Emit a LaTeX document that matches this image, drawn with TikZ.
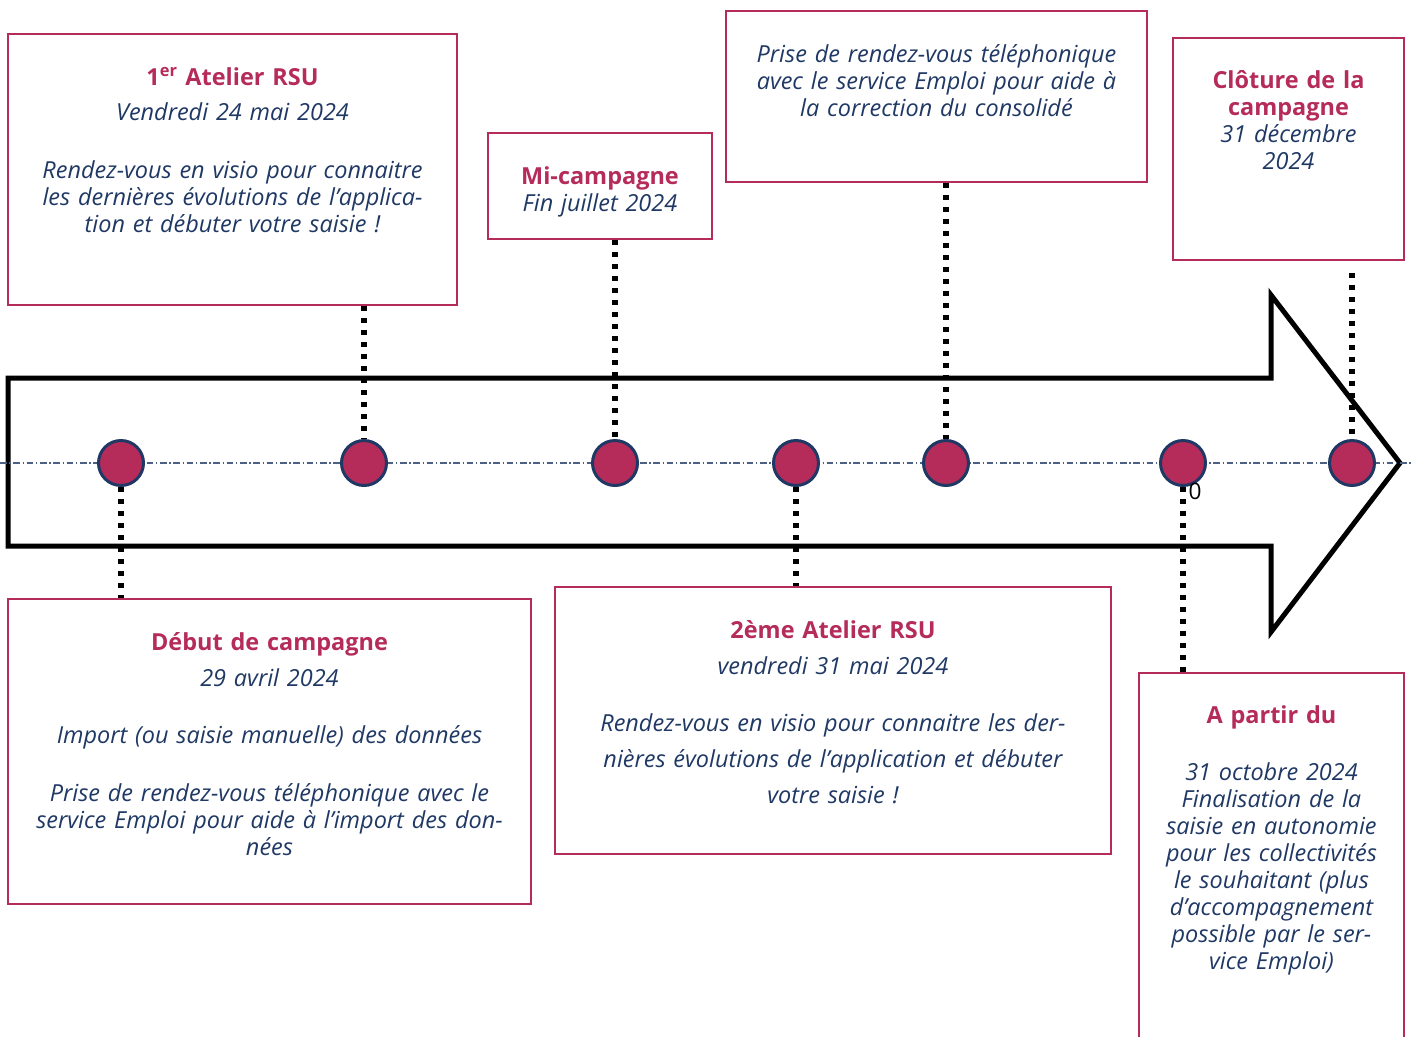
\documentclass[tikz,border=0pt]{standalone}
\usepackage{fontspec}
\setmainfont{Open Sans}
\usepackage{xcolor}
\usetikzlibrary{positioning, fit, calc}
\definecolor{rsurouge}{HTML}{B52B5A}
\definecolor{rsubleu}{HTML}{1F3864}
\newcommand{\titre}[1]{{\upshape\bfseries\color{rsurouge}#1}}

\begin{document}
\begin{tikzpicture}[x=0.75pt, y=-0.75pt,
	cadre/.style={draw=rsurouge, line width=1.5pt, inner sep=0pt, fit={#1}},
	texte/.style={anchor=base, align=center, text=rsubleu, inner sep=0pt, font=\fontsize{17.6}{20.25}\selectfont\itshape},
	jalon/.style={circle, draw=rsubleu, line width=2.25pt, fill=rsurouge, minimum size=33.75pt, inner sep=0pt},
	pointille/.style={line width=4pt, dash pattern=on 4pt off 5pt}]
	\useasboundingbox (0,0) rectangle (1411,1036);
	% la fleche
	\draw[line width=3.75pt, line join=miter] (8,378) -- (1271,378) -- (1271,295) -- (1400,463) -- (1271,632) -- (1271,546) -- (8,546) -- cycle;
	\draw[rsubleu!80, line width=1pt, dash pattern=on 5pt off 2pt on 1pt off 2pt] (0,463) -- (1411,463);
	% les cadres
	\node[cadre={(8,34) (457,305)}] (atelier1) {};
	\node[cadre={(488,133) (712,239)}] (mi) {};
	\node[cadre={(726,11) (1147,182)}] (prise) {};
	\node[cadre={(1173,38) (1404,260)}] (cloture) {};
	\node[cadre={(8,599) (531,904)}] (debut) {};
	\node[cadre={(555,587) (1111,854)}] (atelier2) {};
	\node[cadre={(1139,673) (1404,1060)}] (apartir) {};
	% les textes
	\node[texte, text width=330pt] at ($(atelier1.north)+(0,52)$) {\titre{1\textsuperscript{er} Atelier RSU}\\[6pt]
		Vendredi 24 mai 2024\\[23.25pt]
		Rendez-vous en visio pour connaitre\\
		les dernières évolutions de l’applica-\\
		tion et débuter votre saisie !};
	\node[texte, text width=165pt] at ($(mi.north)+(0,52)$) {\titre{Mi-campagne}\\
		Fin juillet 2024};
	\node[texte, text width=310pt] at ($(prise.north)+(0,52)$) {Prise de rendez-vous téléphonique\\
		avec le service Emploi pour aide à\\
		la correction du consolidé};
	\node[texte, text width=170pt] at ($(cloture.north)+(0,51)$) {\titre{Clôture de la}\\
		\titre{campagne}\\
		31 décembre\\
		2024};
	\node[texte, text width=390pt] at ($(debut.north)+(0,52)$) {\titre{Début de campagne}\\[6.75pt]
		29 avril 2024\\[22.5pt]
		Import (ou saisie manuelle) des données\\[23.25pt]
		Prise de rendez-vous téléphonique avec le\\
		service Emploi pour aide à l’import des don-\\
		nées};
	\node[texte, text width=415pt] at ($(atelier2.north)+(0,52)$) {\titre{2ème Atelier RSU}\\[6.75pt]
		vendredi 31 mai 2024\\[22.5pt]
		Rendez-vous en visio pour connaitre les der-\\[6.75pt]
		nières évolutions de l’application et débuter\\[6.75pt]
		votre saisie !};
	\node[texte, text width=195pt] at ($(apartir.north)+(0,51)$) {\titre{A partir du}\\[22.5pt]
		31 octobre 2024\\
		Finalisation de la\\
		saisie en autonomie\\
		pour les collectivités\\
		le souhaitant (plus\\
		d’accompagnement\\
		possible par le ser-\\
		vice Emploi)};
	% les jalons
	\foreach \x [count=\i] in {121,364,615,796,946,1183,1352}
		\node[jalon] (c\i) at (\x,463) {};
	\node[inner sep=0pt, font=\fontsize{17}{20}\selectfont] (zero) at (1195,491) {0};
	% les pointilles
	\draw[pointille] (c1.south) -- (c1 |- debut.north);
	\draw[pointille] (atelier1.south -| c2) -- (c2.north);
	\draw[pointille] (mi.south -| c3) -- (c3.north);
	\draw[pointille] (c4.south) -- (c4 |- atelier2.north);
	\draw[pointille] (prise.south -| c5) -- (c5.north);
	\draw[pointille] (c6.south) -- (c6 |- apartir.north);
	\draw[pointille] ([yshift=-9pt]cloture.south -| c7) -- (c7.north);
\end{tikzpicture}
\end{document}
